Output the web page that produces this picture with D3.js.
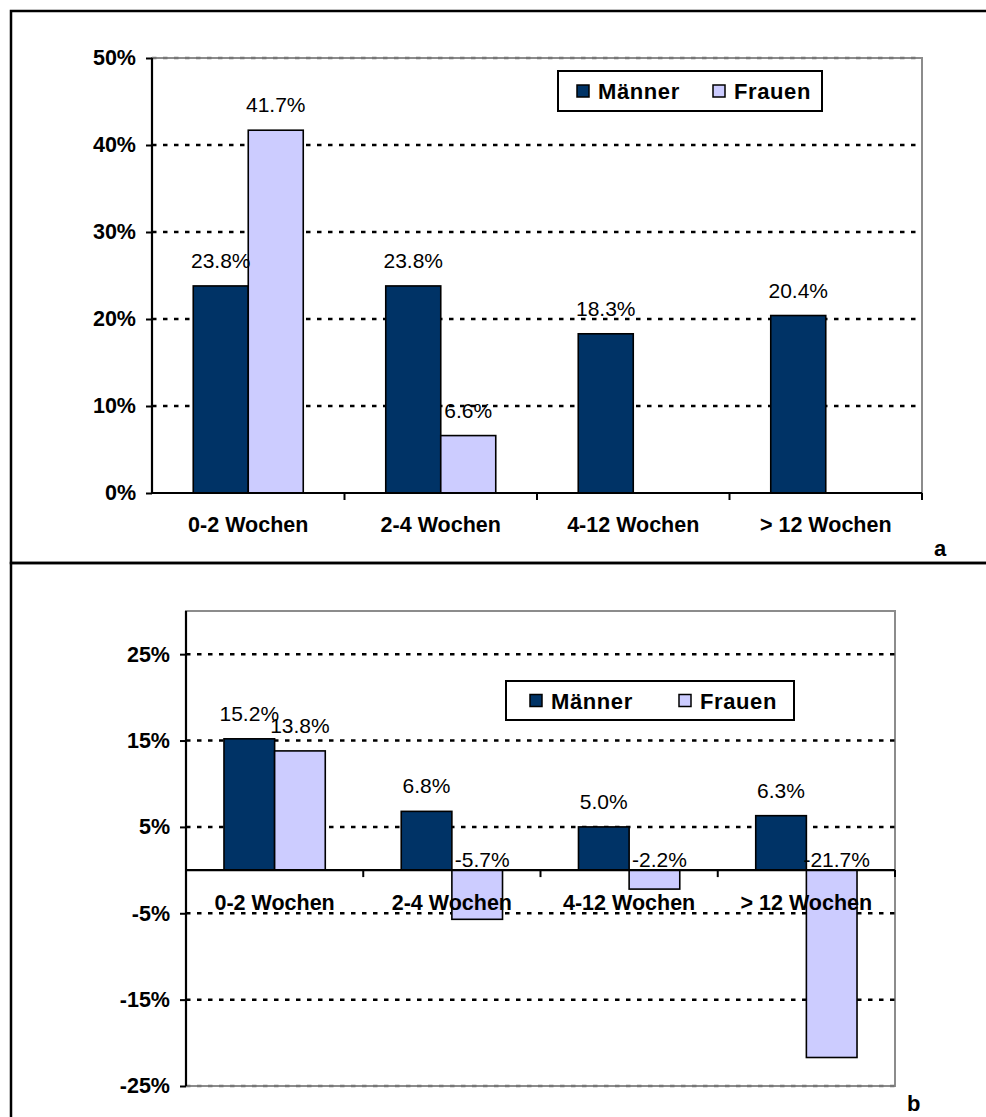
<!DOCTYPE html>
<html>
<head>
<meta charset="utf-8">
<script src="https://cdn.jsdelivr.net/npm/d3@7"></script>
<style>
  html, body { margin: 0; padding: 0; background: #fff; }
  svg { display: block; }
  text { font-family: "Liberation Sans", Arial, sans-serif; fill: #000; }
</style>
</head>
<body>
<svg id="chart" width="986" height="1117"></svg>
<script>
// Categories (duration of absence)
const categories = ["0-2 Wochen", "2-4 Wochen", "4-12 Wochen", "> 12 Wochen"];
const seriesNames = ["Männer", "Frauen"];
const seriesColors = ["#003366", "#CCCCFF"];

// Panel a: shares in percent (null = no bar)
const maennerA = [23.8, 23.8, 18.3, 20.4];
const frauenA  = [41.7, 6.6, null, null];
const ticksA   = [0, 10, 20, 30, 40, 50];

// Panel b: changes in percentage points
const maennerB = [15.2, 6.8, 5.0, 6.3];
const frauenB  = [13.8, -5.7, -2.2, -21.7];
const ticksB   = [-25, -15, -5, 5, 15, 25];

const svg = d3.select("#chart");
const fmtTick = d => d + "%";
const fmtLabel = d => d.toFixed(1) + "%";

// Outer frames of the two panels
svg.append("rect").attr("x", 11).attr("y", 11).attr("width", 990).attr("height", 552)
  .attr("fill", "none").attr("stroke", "#000").attr("stroke-width", 2.5);
svg.append("rect").attr("x", 11).attr("y", 563).attr("width", 990).attr("height", 600)
  .attr("fill", "none").attr("stroke", "#000").attr("stroke-width", 2.5);

function drawPanel(p) {
  const g = svg.append("g");
  const { left, right, top, bottom } = p.box;

  const y = d3.scaleLinear().domain(p.domain).range([bottom, top]);
  const x0 = d3.scaleBand().domain(categories).range([left, right]).padding(0);
  const W = x0.bandwidth();
  const bw = W / 3.5; // gap width 150 %
  const x1 = d3.scaleBand().domain(seriesNames).range([0.75 * bw, 2.75 * bw]).padding(0);

  // plot area border (gray)
  g.append("rect").attr("x", left).attr("y", top)
    .attr("width", right - left).attr("height", bottom - top)
    .attr("fill", "#fff").attr("stroke", "#8c8c8c").attr("stroke-width", 2);

  // dashed gridlines
  const [d0, d1] = p.domain;
  g.append("g").selectAll("line").data(p.ticks).join("line")
    .attr("x1", left).attr("x2", right)
    .attr("y1", d => y(d)).attr("y2", d => y(d))
    .attr("stroke", d => (d === d0 || d === d1) ? "#777" : "#000")
    .attr("stroke-width", 2.5)
    .attr("stroke-dasharray", "4.5,6.5")
    .attr("display", d => d === 0 ? "none" : null);

  // bars
  const rows = [];
  categories.forEach((c, i) => {
    p.series.forEach((vals, s) => {
      if (vals[i] !== null && vals[i] !== undefined)
        rows.push({ cat: c, s: seriesNames[s], color: seriesColors[s], v: vals[i] });
    });
  });

  g.append("g").selectAll("rect").data(rows).join("rect")
    .attr("x", d => x0(d.cat) + x1(d.s))
    .attr("width", x1.bandwidth())
    .attr("y", d => Math.min(y(d.v), y(0)))
    .attr("height", d => Math.abs(y(d.v) - y(0)))
    .attr("fill", d => d.color)
    .attr("stroke", "#000").attr("stroke-width", 1.6);

  // y axis (left)
  const yAxis = d3.axisLeft(y).tickValues(p.ticks).tickFormat(fmtTick).tickSize(6).tickPadding(10);
  const ya = g.append("g").attr("transform", `translate(${left},0)`).call(yAxis);
  ya.select(".domain").attr("stroke", "#000").attr("stroke-width", 2.2)
    .attr("d", `M0,${top}V${bottom}`);
  ya.selectAll(".tick line").attr("stroke", "#000").attr("stroke-width", 2);
  ya.selectAll(".tick text")
    .style("font-family", '"Liberation Sans", Arial, sans-serif')
    .style("font-size", "21.5px").style("font-weight", "bold").attr("fill", "#000");

  // category axis along zero line with boundary ticks
  const zeroY = y(0);
  g.append("line").attr("x1", left).attr("x2", right).attr("y1", zeroY).attr("y2", zeroY)
    .attr("stroke", "#000").attr("stroke-width", 2.2);
  const bounds = categories.map(c => x0(c)).concat([right]);
  g.append("g").selectAll("line").data(bounds.slice(1)).join("line")
    .attr("x1", d => d).attr("x2", d => d)
    .attr("y1", zeroY).attr("y2", zeroY + 7)
    .attr("stroke", "#000").attr("stroke-width", 2);

  g.append("g").selectAll("text").data(categories).join("text")
    .attr("x", d => x0(d) + W / 2)
    .attr("y", p.catLabelY)
    .attr("text-anchor", "middle")
    .style("font-size", "21.5px").style("font-weight", "bold")
    .text(d => d);

  // value labels
  g.append("g").selectAll("text").data(rows).join("text")
    .attr("x", d => x0(d.cat) + x1(d.s) + x1.bandwidth() / 2 + (d.v < 0 ? 5 : 0))
    .attr("y", d => d.v >= 0 ? y(d.v) - 18 : y(0) - 3)
    .attr("text-anchor", "middle")
    .style("font-size", "21px")
    .text(d => fmtLabel(d.v));

  // legend
  const L = p.legend;
  const lg = g.append("g");
  lg.append("rect").attr("x", L.x).attr("y", L.y).attr("width", L.w).attr("height", L.h)
    .attr("fill", "#fff").attr("stroke", "#000").attr("stroke-width", 2);
  seriesNames.forEach((name, i) => {
    lg.append("rect")
      .attr("x", L.x + L.items[i]).attr("y", L.y + L.h / 2 - 6)
      .attr("width", 12).attr("height", 12)
      .attr("fill", seriesColors[i]).attr("stroke", "#000").attr("stroke-width", 1.5);
    lg.append("text")
      .attr("x", L.x + L.items[i] + 21).attr("y", L.y + L.h / 2 + 8)
      .style("font-size", "22px").style("font-weight", "bold")
      .style("letter-spacing", "0.6px")
      .text(name);
  });

  // panel letter
  g.append("text").attr("x", p.letter.x).attr("y", p.letter.y)
    .style("font-size", "22px").style("font-weight", "bold").text(p.letter.t);
}

drawPanel({
  box: { left: 152, right: 922, top: 58, bottom: 493 },
  domain: [0, 50],
  ticks: ticksA,
  series: [maennerA, frauenA],
  catLabelY: 532,
  legend: { x: 558, y: 71, w: 264, h: 40, items: [19, 155] },
  letter: { x: 934, y: 556, t: "a" }
});

drawPanel({
  box: { left: 186, right: 895, top: 611, bottom: 1086 },
  domain: [-25, 30],
  ticks: ticksB,
  series: [maennerB, frauenB],
  catLabelY: 910,
  legend: { x: 506, y: 681, w: 288, h: 39, items: [24, 173] },
  letter: { x: 907, y: 1111, t: "b" }
});
</script>
</body>
</html>
